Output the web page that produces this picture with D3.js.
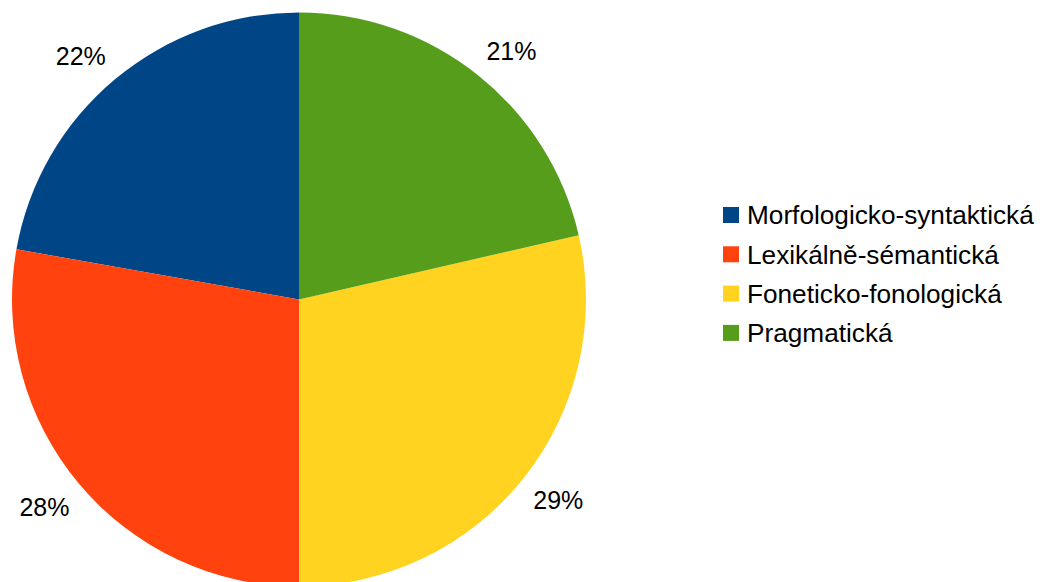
<!DOCTYPE html>
<html>
<head>
<meta charset="utf-8">
<script src="https://cdn.jsdelivr.net/npm/d3@7"></script>
<style>
  html, body { margin: 0; padding: 0; background: #ffffff; }
  svg { display: block; font-family: "Liberation Sans", Arial, sans-serif; }
</style>
</head>
<body>
<svg id="chart" width="1044" height="582"></svg>
<script>
// Categories, shares (%) and slice colours
const categories = ["Morfologicko-syntaktická", "Lexikálně-sémantická", "Foneticko-fonologická", "Pragmatická"];
const shares = [22.2, 27.8, 28.6, 21.4];
const colors = ["#004586", "#ff420e", "#ffd320", "#579d1c"];

const svg = d3.select("#chart");
const cx = 299, cy = 299.5, radius = 287;

// Slices run counter-clockwise from twelve o'clock, in category order
const pie = d3.pie().sort(null).value(d => d.value)
  .startAngle(0).endAngle(-2 * Math.PI);
const total = d3.sum(shares);
const data = pie(categories.map((c, i) => ({ name: c, value: shares[i], color: colors[i] })));

const arc = d3.arc().innerRadius(0).outerRadius(radius);
// Unit-radius arc gives the mid-angle direction of each slice
const unitArc = d3.arc().innerRadius(1).outerRadius(1);
const labelR = 293, labelPadX = 30, labelRy = 320, labelShiftY = 1.5;

const g = svg.append("g").attr("transform", `translate(${cx},${cy})`);

g.selectAll("path.slice")
  .data(data)
  .join("path")
  .attr("class", "slice")
  .attr("d", arc)
  .attr("fill", d => d.data.color);

g.selectAll("text.pct")
  .data(data)
  .join("text")
  .attr("class", "pct")
  .attr("transform", d => {
    const [ux, uy] = unitArc.centroid(d);
    const x = ux * labelR + Math.sign(ux) * labelPadX;
    const y = uy * labelRy + labelShiftY;
    return `translate(${x},${y})`;
  })
  .attr("text-anchor", "middle")
  .attr("dy", "0.36em")
  .attr("font-size", 25)
  .attr("fill", "#000")
  .text(d => Math.round(d.data.value / total * 100) + "%");

// Legend
const legend = svg.append("g").attr("transform", "translate(723,215)");
const rowStep = 39.3;
const rows = legend.selectAll("g.row")
  .data(categories)
  .join("g")
  .attr("class", "row")
  .attr("transform", (d, i) => `translate(0,${i * rowStep})`);

rows.append("rect")
  .attr("x", 0).attr("y", -8)
  .attr("width", 16).attr("height", 16)
  .attr("fill", (d, i) => colors[i]);

rows.append("text")
  .attr("x", 24)
  .attr("y", 0)
  .attr("dy", "0.36em")
  .attr("font-size", 26.2)
  .attr("fill", "#000")
  .text(d => d);
</script>
</body>
</html>
